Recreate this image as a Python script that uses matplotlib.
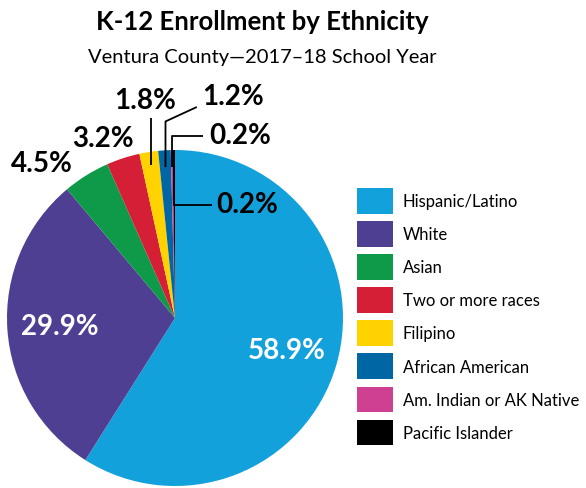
import numpy as np
import matplotlib
matplotlib.use('Agg')
import matplotlib.pyplot as plt

# data
categories = ['Hispanic/Latino', 'White', 'Asian', 'Two or more races', 'Filipino',
              'African American', 'Am. Indian or AK Native', 'Pacific Islander']
shares = [58.9, 29.9, 4.5, 3.2, 1.8, 1.2, 0.2, 0.2]
colors = ['#13A1DB', '#4F3F93', '#0E9A48', '#D41F36', '#FFD200', '#0066A4', '#CF3F92', '#000000']

plt.rcParams['font.family'] = ['Lato', 'DejaVu Sans']

fig = plt.figure(figsize=(5.86, 4.89), dpi=100)
W, H = 586, 489
r_px = 168
ax = fig.add_axes([7 / W, 2 / H, 2 * r_px / W, 2 * r_px / H])

wedges, _ = ax.pie(shares, colors=colors, startangle=90, counterclock=False,
                   radius=1, wedgeprops=dict(linewidth=0))
ax.set_xlim(-1, 1)
ax.set_ylim(-1, 1)
ax.set_aspect('auto')
ax.axis('off')

# mid angles of each wedge
mids = [np.deg2rad((w.theta1 + w.theta2) / 2) for w in wedges]

def lbl(i, x, y, **kw):
    ax.text(x, y, f'{shares[i]}%', ha='center', va='center', fontsize=20,
            fontweight='bold', clip_on=False, **kw)

# inside labels
for i in (0, 1):
    d = 0.69
    lbl(i, d * np.cos(mids[i]), d * np.sin(mids[i]), color='white')

# outside labels without leaders
lbl(2, -0.79, 0.92)
lbl(3, -0.43, 1.07)

# labels with leader lines
lw = 1.3
def leader(i, pts, start_r=0.9):
    x0 = start_r * np.cos(mids[i])
    y0 = start_r * np.sin(mids[i])
    xs = [x0] + [p[0] if p[0] is not None else x0 for p in pts]
    ys = [y0] + [p[1] for p in pts]
    ax.plot(xs, ys, color='black', lw=lw, clip_on=False, solid_capstyle='butt')

leader(4, [(None, 1.19)], start_r=0.92)
lbl(4, -0.18, 1.30)

leader(5, [(None, 1.17), (0.13, 1.256)])
lbl(5, 0.345, 1.32)

leader(6, [(None, 1.083), (0.167, 1.083)])
lbl(6, 0.39, 1.09)

leader(7, [(None, 0.673), (0.22, 0.673)], start_r=1.0)
lbl(7, 0.43, 0.68)

# titles
fig.text(262 / W, 1 - 22 / H, 'K-12 Enrollment by Ethnicity', ha='center', va='center',
         fontsize=18.5, fontweight='bold')
fig.text(262 / W, 1 - 58 / H, 'Ventura County\u20142017\u201318 School Year', ha='center',
         va='center', fontsize=14.5)

# legend
fig.legend(wedges, categories, loc='upper left', bbox_to_anchor=(357 / W, 1 - 189 / H),
           frameon=False, fontsize=12, handlelength=2.16, handleheight=2.0,
           labelspacing=0.44, handletextpad=0.6, borderpad=0, borderaxespad=0)

fig.savefig('out.png', dpi=100)
